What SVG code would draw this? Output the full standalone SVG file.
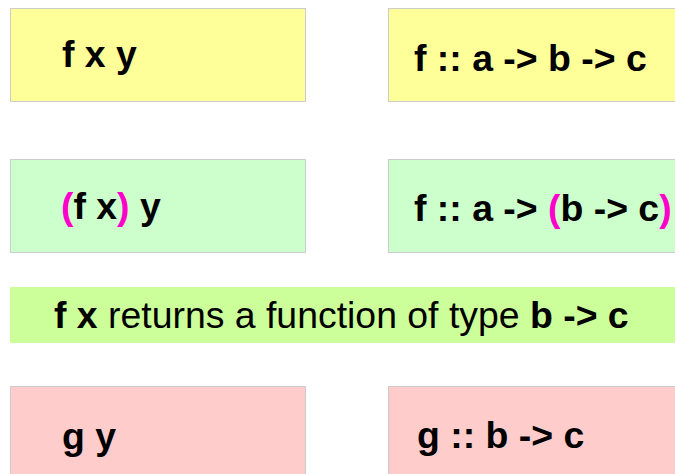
<svg xmlns="http://www.w3.org/2000/svg" width="675" height="474" viewBox="0 0 675 474">
<style>
.box{stroke:#cccccc;stroke-width:1}
.y{fill:#ffff99}
.g{fill:#ccffcc}
.p{fill:#ffcccc}
.t{font-family:"Liberation Sans",Arial,sans-serif;font-size:37.4px;font-weight:bold;fill:#000}
.r{font-weight:normal}
.m{fill:#ff00cc}
</style>
<rect width="675" height="474" fill="#ffffff"/>
<g id="n1"><rect class="box y" x="10.5" y="8.5" width="295" height="93"/><text class="t" x="62" y="67">f x y</text></g>
<g id="n2"><rect class="box y" x="388.5" y="8.5" width="320" height="93"/><text class="t" x="414" y="71">f :: a -&gt; b -&gt; c</text></g>
<g id="n3"><rect class="box g" x="10.5" y="159.5" width="295" height="93"/><text class="t" x="61" y="219"><tspan class="m">(</tspan>f x<tspan class="m">)</tspan> y</text></g>
<g id="n4"><rect class="box g" x="388.5" y="159.5" width="320" height="93"/><text class="t" x="414" y="221">f :: a -&gt; <tspan class="m">(</tspan>b -&gt; c<tspan class="m">)</tspan></text></g>
<g id="n5"><rect x="10" y="287" width="700" height="56" fill="#ccff99"/><text class="t" x="54" y="328">f x<tspan class="r"> returns a function of type </tspan>b -&gt; c</text></g>
<g id="n6"><rect class="box p" x="10.5" y="386.5" width="295" height="100"/><text class="t" x="62" y="449">g y</text></g>
<g id="n7"><rect class="box p" x="388.5" y="386.5" width="320" height="100"/><text class="t" x="417" y="448">g :: b -&gt; c</text></g>
<g id="connectors"/>
</svg>
